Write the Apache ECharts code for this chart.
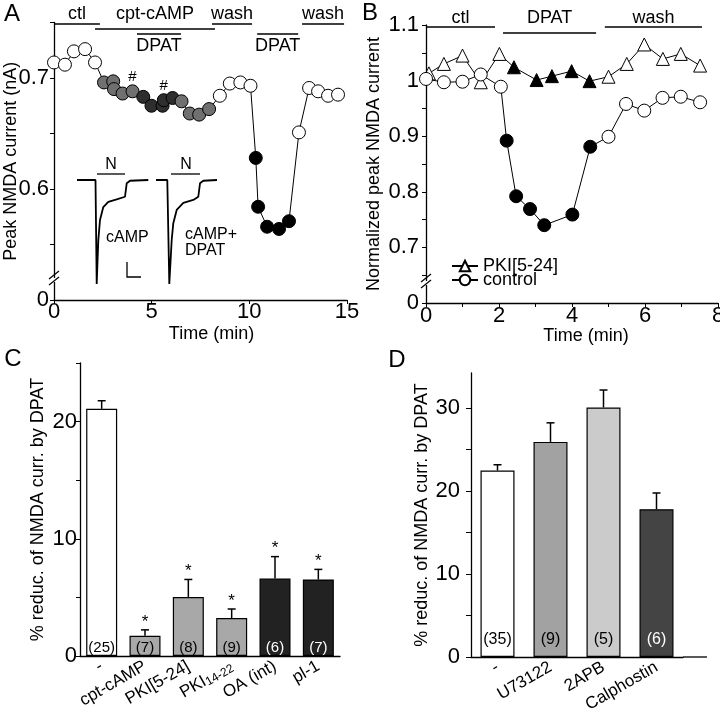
<!DOCTYPE html>
<html><head><meta charset="utf-8">
<script src="https://cdn.jsdelivr.net/npm/echarts@6/dist/echarts.min.js"></script>
<style>html,body{margin:0;padding:0;background:#fff}#c{width:720px;height:708px}</style>
</head><body><div id="c"></div>
<script>
// ---------- Panel A: peak NMDA current vs time ----------
const aTime = [0,0.56,1.02,1.59,2.10,2.56,3.03,3.07,3.51,4.02,4.57,4.99,5.56,5.62,6.07,6.53,6.95,7.43,7.94,8.49,9.00,9.54,10.06,10.33,10.45,10.91,11.52,12.03,12.54,13.06,13.52,14.03,14.54];
const aCurrent = [0.714,0.712,0.724,0.726,0.714,0.696,0.697,0.690,0.686,0.688,0.683,0.675,0.675,0.680,0.682,0.679,0.668,0.667,0.672,0.684,0.695,0.696,0.693,0.628,0.584,0.566,0.564,0.571,0.651,0.691,0.688,0.684,0.685];
const aCondition = ['ctl','ctl','ctl','ctl','ctl','cAMP','cAMP','cAMP','cAMP','cAMP','cAMP+DPAT','cAMP+DPAT','cAMP+DPAT','cAMP+DPAT','cAMP+DPAT','cAMP','cAMP','cAMP','cAMP','wash','wash','wash','wash','DPAT','DPAT','DPAT','DPAT','DPAT','wash','wash','wash','wash','wash'];
const aHash = [9, 13];
const aPeriodLabel = ['ctl','cpt-cAMP','wash','DPAT','DPAT','wash'];
const aPeriodStart = [0, 2.1, 8.09, 4.25, 10.4, 12.7];
const aPeriodEnd = [2.35, 8.24, 10.14, 6.5, 12.5, 14.85];
const aYTicks = {0.5:'0', 0.6:'0.6', 0.7:'0.7'};
// inset traces (arbitrary time units, normalized current)
const trace1T = [7,25.5,26.7,28.3,30,33.3,38.3,46.7,55,56.7,60,78.3];
const trace1I = [0,0,-1.0,-0.58,-0.385,-0.26,-0.21,-0.186,-0.161,-0.032,-0.007,0];
const trace2T = [86,97.3,99.3,101.7,103.3,106.7,113.3,123.3,128.3,130,133.3,147];
const trace2I = [0,0,-1.0,-0.577,-0.415,-0.288,-0.221,-0.192,-0.161,-0.032,-0.007,0];

// ---------- Panel B: normalized current ----------
const bPkiTime = [0.08,0.49,1.0,1.5,2.01,2.41,3.03,3.45,3.99,4.48,5.0,5.5,5.98,6.49,6.98,7.51];
const bPkiValue = [1.013,1.030,1.045,0.997,1.048,1.024,1.001,1.008,1.017,0.999,1.007,1.030,1.065,1.039,1.048,1.027];
const bCtlTime = [0,0.49,1.0,1.5,2.05,2.21,2.47,2.85,3.24,4.01,4.5,5.0,5.48,5.98,6.48,6.98,7.51];
const bCtlValue = [1.003,0.997,0.998,1.011,0.989,0.892,0.792,0.769,0.740,0.759,0.881,0.899,0.958,0.946,0.969,0.971,0.961];
const bPeriodLabel = ['ctl','DPAT','wash'];
const bPeriodStart = [0, 2.11, 4.9];
const bPeriodEnd = [1.89, 4.66, 7.56];

// ---------- Panel C ----------
const cCategories = ['-','cpt-cAMP','PKI[5-24]','PKI14-22','OA (int)','pl-1'];
const cValue = [21.09,1.72,5.04,3.24,6.62,6.53];
const cError = [0.69,0.51,1.49,0.77,1.86,0.86];
const cN = [25,7,8,9,6,7];
const cSignificant = [0,1,1,1,1,1];

// ---------- Panel D ----------
const dCategories = ['-','U73122','2APB','Calphostin'];
const dValue = [22.45,25.9,30.05,17.8];
const dError = [0.7,2.3,2.1,1.95];
const dN = [35,9,5,6];

// ---------- styles ----------
const FONT = "'Liberation Sans', Arial, Helvetica, sans-serif";
const condColor = {'ctl':'#ffffff','cAMP':'#707070','cAMP+DPAT':'#2e2e2e','wash':'#ffffff','DPAT':'#000000'};
const cColors = ['#ffffff','#a8a8a8','#a8a8a8','#a8a8a8','#222222','#222222'];
const cLabelColors = ['#000','#000','#000','#000','#fff','#fff'];
const dColors = ['#ffffff','#a2a2a2','#cbcbcb','#444444'];
const dLabelColors = ['#000','#000','#000','#fff'];
const AXLINE = {lineStyle:{color:'#000', width:1.3}};

const chart = echarts.init(document.getElementById('c'), null, {renderer:'canvas'});

function near(v, t){ return Math.abs(v - t) < 1e-6; }

function errRender(params, api){
  const i = api.value(0), v = api.value(1), e = api.value(2), s = api.value(3);
  const p0 = api.coord([i, v]), p1 = api.coord([i, v + e]);
  const ch = [
    {type:'line', shape:{x1:p0[0], y1:p0[1], x2:p1[0], y2:p1[1]}, style:{stroke:'#000', lineWidth:1.5}},
    {type:'line', shape:{x1:p1[0]-4, y1:p1[1], x2:p1[0]+4, y2:p1[1]}, style:{stroke:'#000', lineWidth:1.5}}
  ];
  if (s) ch.push({type:'text', style:{text:'*', x:p1[0], y:p1[1]-8, align:'center', verticalAlign:'middle', font:'17px ' + FONT, fill:'#000'}});
  return {type:'group', children: ch};
}

const inDPAT = t => t >= bPeriodStart[1] && t <= bPeriodEnd[1];

const option = {
  animation:false,
  backgroundColor:'#fff',
  textStyle:{fontFamily:FONT, color:'#000'},
  grid:[
    {left:54, top:22.5, width:293, height:277.5, outerBoundsMode:'none'},
    {left:70, top:169.6, width:155, height:124.8, outerBoundsMode:'none'},
    {left:426, top:25, width:292, height:278, outerBoundsMode:'none'},
    {left:80, top:363, width:260, height:293, outerBoundsMode:'none'},
    {left:471, top:373, width:212, height:284, outerBoundsMode:'none'}
  ],
  xAxis:[
    {gridIndex:0, type:'value', min:0, max:15, interval:5, axisLine:AXLINE,
     axisTick:{show:true, length:4, lineStyle:{color:'#000'}}, splitLine:{show:false},
     axisLabel:{fontSize:22, color:'#000', margin:1},
     name:'Time (min)', nameLocation:'middle', nameGap:25, nameMoveOverlap:false, nameTextStyle:{fontSize:18, color:'#000', padding:[0,0,0,22]}},
    {gridIndex:1, type:'value', min:0, max:155, show:false},
    {gridIndex:2, type:'value', min:0, max:8, interval:1, axisLine:AXLINE,
     axisTick:{show:true, length:4, lineStyle:{color:'#000'}}, splitLine:{show:false},
     axisLabel:{fontSize:22, color:'#000', margin:2, formatter:v => (Math.round(v) % 2 === 0 ? String(Math.round(v)) : '')},
     name:'Time (min)', nameLocation:'middle', nameGap:24, nameMoveOverlap:false, nameTextStyle:{fontSize:18, color:'#000', padding:[0,0,0,28]}},
    {gridIndex:3, type:'category', data:cCategories, axisLine:AXLINE, axisTick:{show:false},
     axisLabel:{interval:0, rotate:30, fontSize:17, color:'#000', margin:9,
       formatter:v => v === 'PKI14-22' ? '{a|PKI}{s|14-22}' : v,
       rich:{a:{fontSize:17, fontFamily:FONT}, s:{fontSize:12, fontFamily:FONT, padding:[6,0,0,0]}}}},
    {gridIndex:4, type:'category', data:dCategories, axisLine:AXLINE, axisTick:{show:false},
     axisLabel:{interval:0, rotate:30, fontSize:17, color:'#000', margin:9}}
  ],
  yAxis:[
    {gridIndex:0, type:'value', min:0.5, max:0.75, interval:0.05, axisLine:{show:true, lineStyle:{color:'#000', width:1.3}},
     axisTick:{show:true, length:4, lineStyle:{color:'#000'}}, splitLine:{show:false},
     axisLabel:{fontSize:22, color:'#000', margin:5, showMaxLabel:true,
       formatter:v => { for (const k in aYTicks) if (near(v, +k)) return aYTicks[k]; return ''; }},
     name:'Peak NMDA current (nA)', nameLocation:'middle', nameGap:34, nameMoveOverlap:false, nameTextStyle:{fontSize:18, color:'#000'}},
    {gridIndex:1, type:'value', min:-1.1, max:0.1, show:false},
    {gridIndex:2, type:'value', min:0.6, max:1.1, interval:0.05, axisLine:{show:true, lineStyle:{color:'#000', width:1.3}},
     axisTick:{show:true, length:4, lineStyle:{color:'#000'}}, splitLine:{show:false},
     axisLabel:{fontSize:22, color:'#000', margin:7,
       formatter:v => { if (near(v,0.6)) return '0'; if (near(v*10, Math.round(v*10))) return String(Math.round(v*10)/10); return ''; }},
     name:'Normalized peak NMDA current', nameLocation:'middle', nameGap:43, nameMoveOverlap:false, nameTextStyle:{fontSize:18, color:'#000'}},
    {gridIndex:3, type:'value', min:0, max:25, interval:5, axisLine:{show:true, lineStyle:{color:'#000', width:1.3}},
     axisTick:{show:true, length:4, lineStyle:{color:'#000'}}, splitLine:{show:false},
     axisLabel:{fontSize:22, color:'#000', margin:3, formatter:v => (v % 10 === 0 ? String(v) : '')},
     name:'% reduc. of NMDA curr. by DPAT', nameLocation:'middle', nameGap:33, nameMoveOverlap:false, nameTextStyle:{fontSize:18, color:'#000'}},
    {gridIndex:4, type:'value', min:0, max:34.2, interval:5, axisLine:{show:true, lineStyle:{color:'#000', width:1.3}},
     axisTick:{show:true, length:5, lineStyle:{color:'#000'}}, splitLine:{show:false},
     axisLabel:{fontSize:22, color:'#000', margin:11, showMaxLabel:false, formatter:v => (near(v % 10, 0) && v <= 30 ? String(v) : '')},
     name:'% reduc. of NMDA curr. by DPAT', nameLocation:'middle', nameGap:40, nameMoveOverlap:false, nameTextStyle:{fontSize:18, color:'#000'}}
  ],
  legend:{
    left:446, top:252, orient:'vertical', itemWidth:26, itemHeight:13, itemGap:-4,
    data:['PKI[5-24]','control'],
    textStyle:{fontSize:18, color:'#000', fontFamily:FONT}
  },
  series:[
    {type:'line', name:'A', xAxisIndex:0, yAxisIndex:0, symbol:'circle', symbolSize:13,
     lineStyle:{color:'#000', width:1}, itemStyle:{borderColor:'#000', borderWidth:1},
     data:aTime.map((t,i) => ({value:[t, aCurrent[i]], itemStyle:{color:condColor[aCondition[i]]},
        label: aHash.includes(i) ? {show:true, formatter:'#', position:'top', distance:0, fontSize:15, color:'#000'} : {show:false}}))},
    {type:'line', xAxisIndex:1, yAxisIndex:1, showSymbol:false, lineStyle:{color:'#000', width:1.8},
     data:trace1T.map((t,i) => [t, trace1I[i]])},
    {type:'line', xAxisIndex:1, yAxisIndex:1, showSymbol:false, lineStyle:{color:'#000', width:1.8},
     data:trace2T.map((t,i) => [t, trace2I[i]])},
    {type:'line', name:'PKI[5-24]', xAxisIndex:2, yAxisIndex:2, symbol:'triangle', symbolSize:13,
     lineStyle:{color:'#000', width:1}, itemStyle:{color:'#fff', borderColor:'#000', borderWidth:1},
     data:bPkiTime.map((t,i) => ({value:[t, bPkiValue[i]], itemStyle:{color: inDPAT(t) ? '#000' : '#fff'}}))},
    {type:'line', name:'control', xAxisIndex:2, yAxisIndex:2, symbol:'circle', symbolSize:13,
     lineStyle:{color:'#000', width:1}, itemStyle:{color:'#fff', borderColor:'#000', borderWidth:1},
     data:bCtlTime.map((t,i) => ({value:[t, bCtlValue[i]], itemStyle:{color: inDPAT(t) ? '#000' : '#fff'}}))},
    {type:'bar', xAxisIndex:3, yAxisIndex:3, barWidth:31,
     itemStyle:{borderColor:'#000', borderWidth:1.2},
     label:{show:true, position:'insideBottom', distance:1, fontSize:15, formatter:p => '(' + cN[p.dataIndex] + ')'},
     data:cValue.map((v,i) => ({value:v, itemStyle:{color:cColors[i]}, label:{color:cLabelColors[i]}}))},
    {type:'custom', xAxisIndex:3, yAxisIndex:3, renderItem:errRender, z:5,
     data:cValue.map((v,i) => [i, v, cError[i], cSignificant[i]])},
    {type:'bar', xAxisIndex:4, yAxisIndex:4, barWidth:34,
     itemStyle:{borderColor:'#000', borderWidth:1.2},
     label:{show:true, position:'insideBottom', distance:9, fontSize:16, formatter:p => '(' + dN[p.dataIndex] + ')'},
     data:dValue.map((v,i) => ({value:v, itemStyle:{color:dColors[i]}, label:{color:dLabelColors[i]}}))},
    {type:'custom', xAxisIndex:4, yAxisIndex:4, renderItem:errRender, z:5,
     data:dValue.map((v,i) => [i, v, dError[i], 0])}
  ]
};
chart.setOption(option);

// ---------- annotations (period bars, labels, breaks, inset marks) ----------
const g = [];
function txt(x, y, s, size, align){ g.push({type:'text', x:x, y:y, style:{text:s, font:size + 'px ' + FONT, fill:'#000', align:align || 'center', verticalAlign:'middle'}}); }
function ln(x1, y1, x2, y2, w){ g.push({type:'line', shape:{x1:x1, y1:y1, x2:x2, y2:y2}, style:{stroke:'#000', lineWidth:w || 1.3}}); }

const aLineY = [24, 29, 24, 34, 34, 24];
const aTextY = [14, 14, 14, 46, 46, 14];
aPeriodLabel.forEach((lab, i) => {
  const x1 = chart.convertToPixel({xAxisIndex:0}, aPeriodStart[i]);
  const x2 = chart.convertToPixel({xAxisIndex:0}, aPeriodEnd[i]);
  ln(x1, aLineY[i], x2, aLineY[i]);
  txt((x1 + x2) / 2, aTextY[i], lab, 18);
});
const bLineY = [27, 33, 27];
bPeriodLabel.forEach((lab, i) => {
  const x1 = chart.convertToPixel({xAxisIndex:2}, bPeriodStart[i]);
  const x2 = chart.convertToPixel({xAxisIndex:2}, bPeriodEnd[i]);
  ln(x1, bLineY[i], x2, bLineY[i]);
  txt((x1 + x2) / 2, 18, lab, 18);
});

// D axis line continues past last category
ln(683, 657, 707, 657);

// axis breaks
function brk(x, y){
  g.push({type:'rect', shape:{x:x-2, y:y-2, width:4, height:4}, style:{fill:'#fff'}, z:100});
  g.push({type:'line', shape:{x1:x-5, y1:y-1, x2:x+5, y2:y-9}, style:{stroke:'#000', lineWidth:1.2}, z:101});
  g.push({type:'line', shape:{x1:x-5, y1:y+5, x2:x+5, y2:y-3}, style:{stroke:'#000', lineWidth:1.2}, z:101});
}
brk(54, 280);
brk(426, 283);

// inset marks
ln(97, 174, 125, 174, 1.3); txt(111, 165, 'N', 16);
ln(171, 174, 200, 174, 1.3); txt(186, 165, 'N', 16);
txt(106, 238, 'cAMP', 16, 'left');
txt(185, 235, 'cAMP+', 16, 'left');
txt(185, 251, 'DPAT', 16, 'left');
g.push({type:'polyline', shape:{points:[[127,262],[127,277],[141,277]]}, style:{stroke:'#000', lineWidth:1.3, fill:null}});

// panel letters
txt(12, 14, 'A', 24); txt(370, 13, 'B', 24); txt(13, 359, 'C', 24); txt(397, 360, 'D', 24);

chart.setOption({graphic:{elements:g}});
</script></body></html>
